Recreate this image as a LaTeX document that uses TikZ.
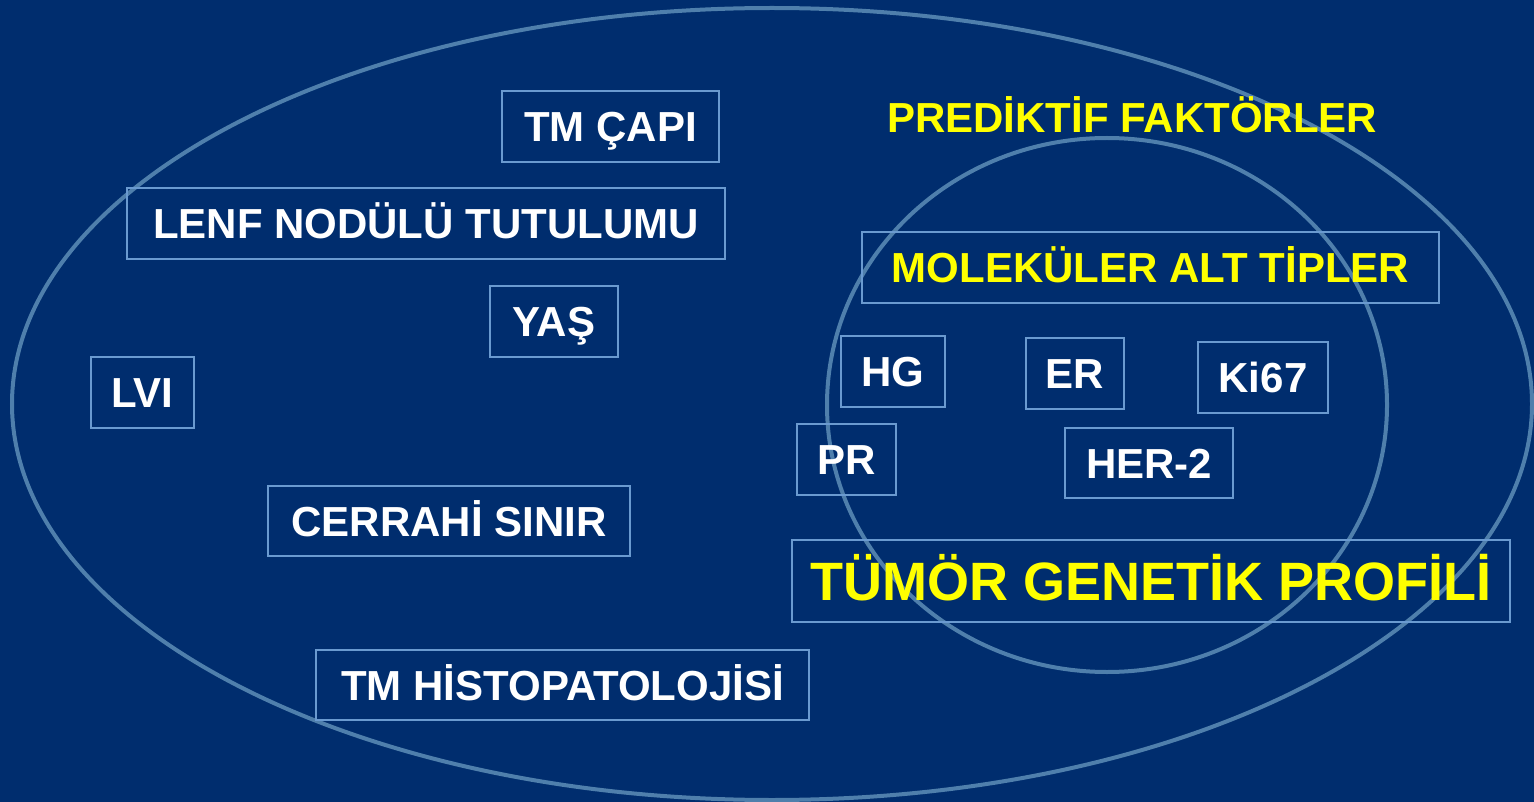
\documentclass[tikz,border=0pt]{standalone}
\usepackage{fontspec}
\setmainfont{Liberation Sans}
\definecolor{bg}{HTML}{002D6E}
\definecolor{ring}{HTML}{4F7FAC}
\definecolor{boxline}{HTML}{6A9AD0}
\definecolor{yel}{HTML}{FFFF00}
\tikzset{
  lab/.style={draw=boxline, line width=1.8pt, inner sep=0pt, text=white,
    font=\fontsize{42}{48}\selectfont\bfseries, text height=30pt, text depth=0pt, align=center},
  ylab/.style={lab, text=yel},
  ring/.style={draw=ring, line width=4pt}
}
\begin{document}
\begin{tikzpicture}[x=1pt,y=-1pt]
\fill[bg] (0,0) rectangle (1534,802);
\useasboundingbox (0,0) rectangle (1534,802);
\draw[ring] (772,404) ellipse [x radius=760, y radius=396];
\draw[ring] (1107,405) ellipse [x radius=280, y radius=267];
\node[lab, minimum width=217, minimum height=71] (capi) at (610.5,126.5) {TM ÇAPI};
\node[lab, minimum width=598, minimum height=71] (lenf) at (426,223.5) {LENF NODÜLÜ TUTULUMU};
\node[lab, minimum width=128, minimum height=71] (yas) at (554,321.5) {YAŞ};
\node[lab, minimum width=103, minimum height=71] (lvi) at (142.5,392.5) {LVI};
\node[lab, minimum width=362, minimum height=70] (cerr) at (449,521) {CERRAHİ SINIR};
\node[lab, minimum width=493, minimum height=70] (histo) at (562.5,685) {TM HİSTOPATOLOJİSİ};
\node[ylab, minimum width=577, minimum height=71] (mol) at (1150.5,267.5) {MOLEKÜLER ALT TİPLER};
\node[lab, minimum width=104, minimum height=71] (hg) at (893,371.5) {HG};
\node[lab, minimum width=98, minimum height=71] (er) at (1075,373.5) {ER};
\node[lab, minimum width=130, minimum height=71] (ki) at (1263,377.5) {Ki67};
\node[lab, minimum width=99, minimum height=71] (pr) at (846.5,459.5) {PR};
\node[lab, minimum width=168, minimum height=70] (her) at (1149,463) {HER-2};
\node[ylab, minimum width=718, minimum height=82, font=\fontsize{54}{60}\selectfont\bfseries, text height=39pt] (tum) at (1151,581) {TÜMÖR GENETİK PROFİLİ};
\node[ylab, draw=none] (pred) at (1132,118) {PREDİKTİF FAKTÖRLER};
\end{tikzpicture}
\end{document}
